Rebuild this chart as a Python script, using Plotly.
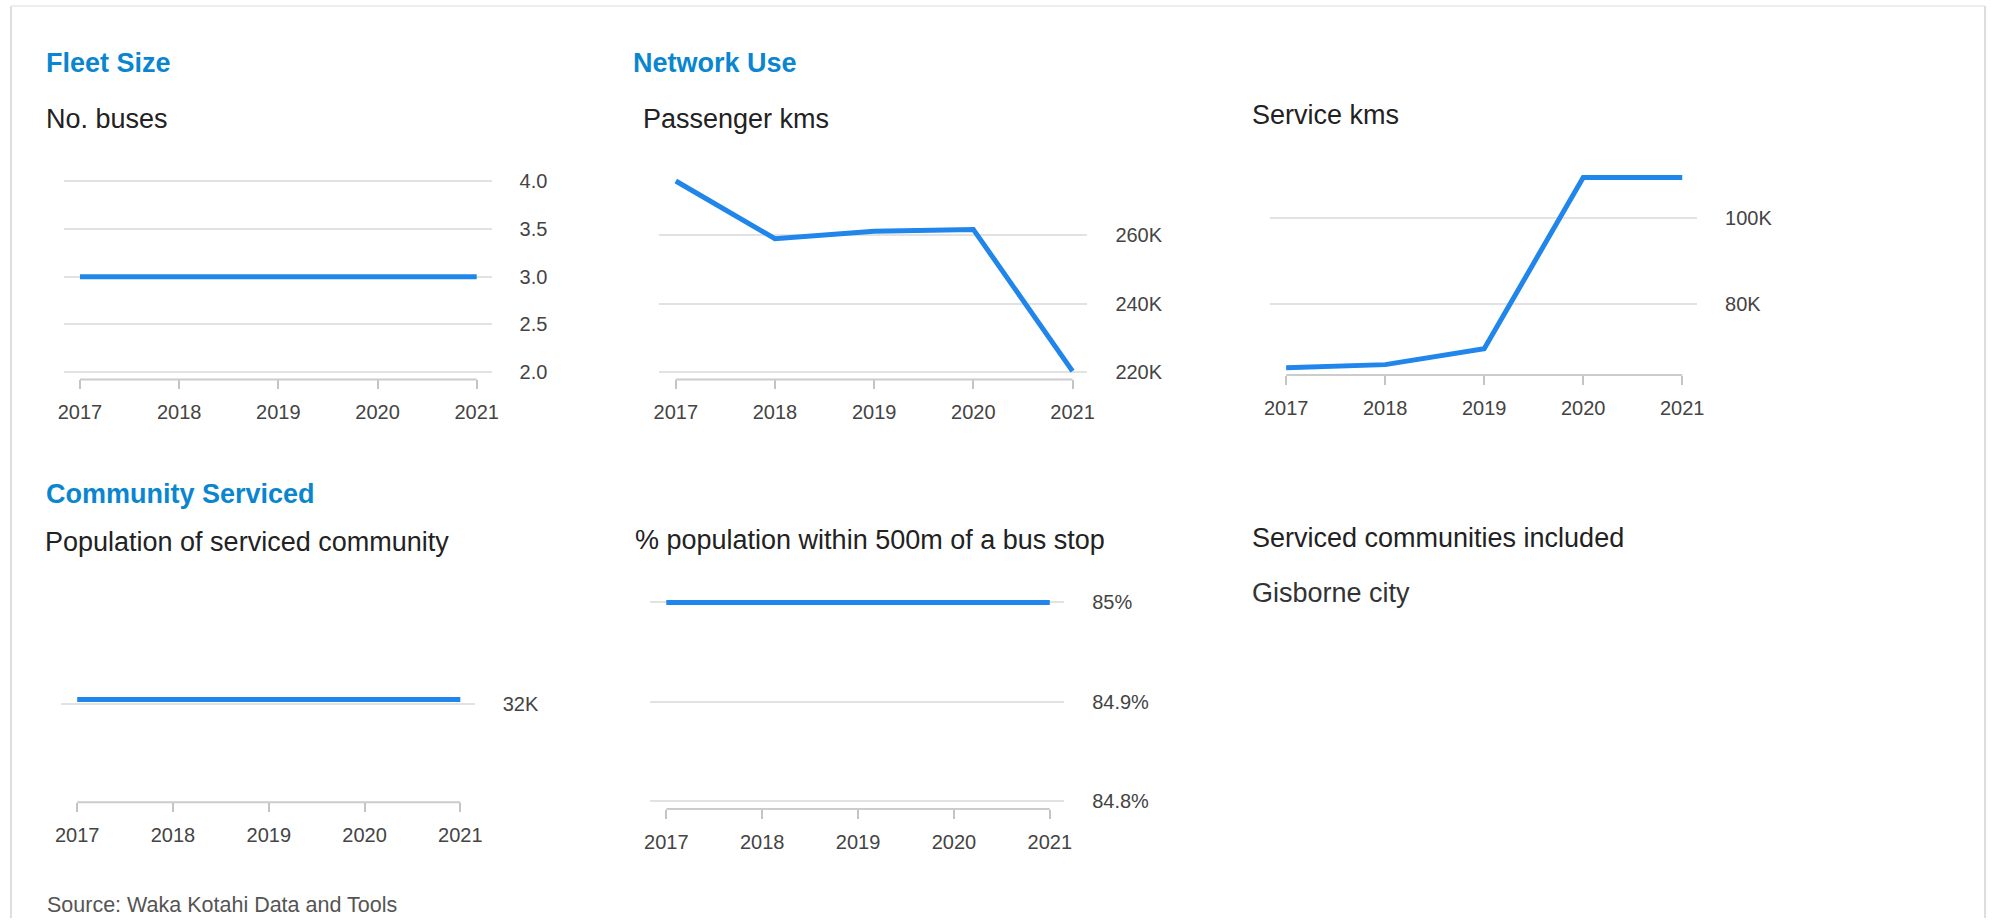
import plotly.graph_objects as go

# ---------------- data ----------------
years = [2017, 2018, 2019, 2020, 2021]
fleet_size = [3, 3, 3, 3, 3]
passenger_kms = [275900, 259000, 261200, 261700, 220200]
service_kms = [65100, 65800, 69500, 109400, 109400]
population = [32100, 32100, 32100, 32100, 32100]
pct_within_500m = [85, 85, 85, 85, 85]

fleet_ticks = [2.0, 2.5, 3.0, 3.5, 4.0]
fleet_labels = ["2.0", "2.5", "3.0", "3.5", "4.0"]
pkm_ticks = [220000, 240000, 260000]
pkm_labels = ["220K", "240K", "260K"]
skm_ticks = [80000, 100000]
skm_labels = ["80K", "100K"]
pop_ticks = [32000]
pop_labels = ["32K"]
pct_ticks = [84.8, 84.9, 85.0]
pct_labels = ["84.8%", "84.9%", "85%"]

section_titles = ["Fleet Size", "Network Use", "Community Serviced"]
chart_titles = ["No. buses", "Passenger kms", "Service kms",
                "Population of serviced community",
                "% population within 500m of a bus stop",
                "Serviced communities included"]
communities = ["Gisborne city"]
source_text = "Source: Waka Kotahi Data and Tools"

# ---------------- layout helpers ----------------
W, H = 2003, 921
FONT = "Liberation Sans, Arial, sans-serif"
BLUE_LINE = "#2186EB"
BLUE_TITLE = "#0A86D0"
GRID = "#e2e2e2"
AXIS = "#cccccc"
TICKTXT = "#444444"


def px(x):
    return x / W


def py(y):
    return 1 - y / H


panels = [
    # (xdomain px, ydomain px (top, bottom), yrange, series, ticks, labels)
    ((58, 489), (172, 377.7), (1.92, 4.0625), fleet_size, fleet_ticks, fleet_labels),
    ((658, 1089), (172, 377.7), (217760, 277500), passenger_kms, pkm_ticks, pkm_labels),
    ((1272.7, 1703), (168, 373.3), (63370, 110780), service_kms, skm_ticks, skm_labels),
    ((55.8, 472), (600, 804.3), (29690, 34442), population, pop_ticks, pop_labels),
    ((649, 1065.6), (596, 811), (84.7917, 85.0067), pct_within_500m, pct_ticks, pct_labels),
]

fig = go.Figure()
layout = dict(
    width=W, height=H, autosize=False,
    margin=dict(l=0, r=0, t=0, b=0, pad=0),
    paper_bgcolor="white", plot_bgcolor="white",
    showlegend=False,
    font=dict(family=FONT, color=TICKTXT, size=20),
)
shapes = []

for i, (xd, yd, yr, series, tv, tt) in enumerate(panels, start=1):
    xa = "x" if i == 1 else f"x{i}"
    ya = "y" if i == 1 else f"y{i}"
    fig.add_trace(go.Scatter(
        x=years, y=series, mode="lines",
        line=dict(color=BLUE_LINE, width=5),
        xaxis=xa, yaxis=ya, hoverinfo="skip",
    ))
    layout[f"xaxis{i}"] = dict(
        domain=[px(xd[0]), px(xd[1])], anchor=ya,
        range=[2016.835, 2021.15],
        tickvals=years, ticktext=[str(y) for y in years],
        ticks="outside", ticklen=9, tickwidth=2, tickcolor="#c4c4c4",
        showgrid=False, zeroline=False, showline=False,
        tickfont=dict(family=FONT, size=20, color=TICKTXT),
        ticklabelstandoff=6, fixedrange=True,
    )
    layout[f"yaxis{i}"] = dict(
        domain=[py(yd[1]), py(yd[0])], anchor=xa, side="right",
        range=list(yr),
        tickvals=tv, ticktext=tt,
        ticks="", showgrid=True, gridcolor=GRID, gridwidth=2,
        zeroline=False, showline=False,
        tickfont=dict(family=FONT, size=20, color=TICKTXT),
        ticklabelstandoff=27, fixedrange=True,
    )
    shapes.append(dict(
        type="line", xref=xa, yref=f"{ya} domain",
        x0=years[0], x1=years[-1], y0=0, y1=0,
        line=dict(color=AXIS, width=2), layer="above",
    ))

# card border
shapes += [
    dict(type="line", xref="paper", yref="paper", x0=px(5), x1=px(5), y0=0, y1=py(1),
         line=dict(color="#dddddd", width=2)),
    dict(type="line", xref="paper", yref="paper", x0=px(5), x1=px(1993), y0=py(1), y1=py(1),
         line=dict(color="#eeeeee", width=2)),
    dict(type="line", xref="paper", yref="paper", x0=px(1993), x1=px(1993), y0=0, y1=py(1),
         line=dict(color="#dddddd", width=2)),
]
layout["shapes"] = shapes

annotations = []


def add_text(text, x, y, size, color, bold=False):
    annotations.append(dict(
        text=f"<b>{text}</b>" if bold else text,
        x=px(x), y=py(y), xref="paper", yref="paper",
        xanchor="left", yanchor="middle", showarrow=False,
        borderpad=0, borderwidth=0,
        font=dict(family=FONT, size=size, color=color),
    ))


# section titles
add_text(section_titles[0], 40, 59, 27, BLUE_TITLE, bold=True)
add_text(section_titles[1], 631, 59, 27, BLUE_TITLE, bold=True)
add_text(section_titles[2], 40, 493, 27, BLUE_TITLE, bold=True)
# chart titles
add_text(chart_titles[0], 40, 115, 27, "#222222")
add_text(chart_titles[1], 641, 115, 27, "#222222")
add_text(chart_titles[2], 1255, 111, 27, "#222222")
add_text(chart_titles[3], 39, 542, 27, "#222222")
add_text(chart_titles[4], 633, 540, 27, "#222222")
add_text(chart_titles[5], 1255, 538, 27, "#222222")
add_text(communities[0], 1255, 593, 27, "#333333")
add_text(source_text, 41, 908, 21.5, "#555555")

layout["annotations"] = annotations
fig.update_layout(**layout)

fig.write_html(
    "out.html",
    config={"displayModeBar": False, "staticPlot": True},
    post_script="document.body.style.margin='0';document.body.style.overflow='hidden';",
)
